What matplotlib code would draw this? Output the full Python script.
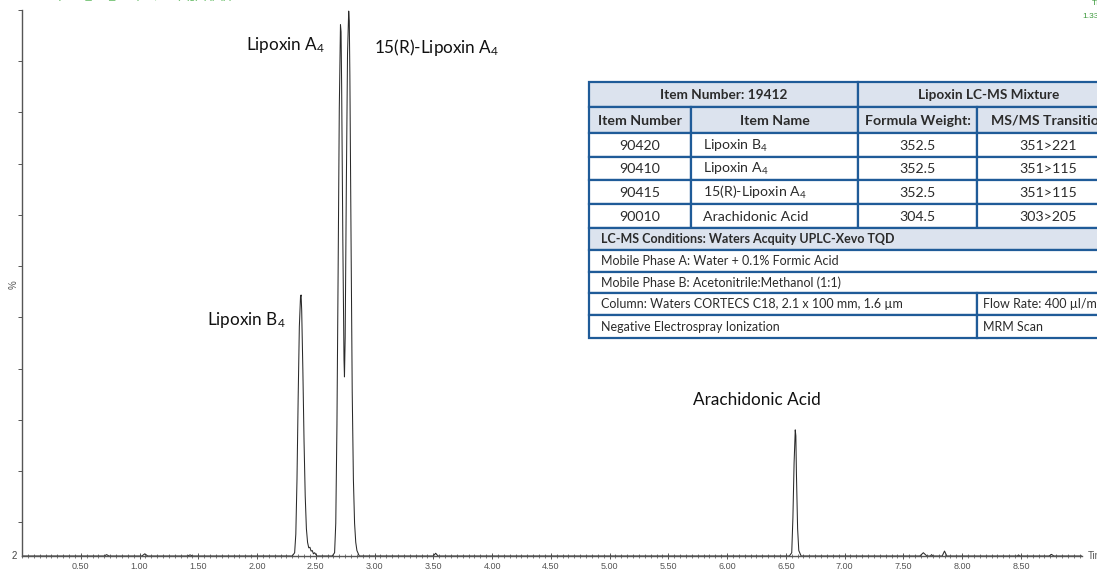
import matplotlib
matplotlib.use("Agg")
import matplotlib.pyplot as plt
from matplotlib.patches import Rectangle
from matplotlib.ticker import MultipleLocator
import numpy as np

plt.rcParams["font.family"] = ["Lato", "DejaVu Sans"]
plt.rcParams["mathtext.default"] = "regular"

# chromatogram trace (retention time in min, relative intensity in %)
trace_time = [
    0.00, 0.70, 0.72, 0.74, 1.02, 1.045, 1.07, 1.41, 1.43, 1.45,
    2.30, 2.32, 2.33, 2.34, 2.35, 2.36, 2.37, 2.375, 2.38, 2.39, 2.40, 2.41,
    2.42, 2.43, 2.44, 2.45, 2.46, 2.47, 2.48, 2.49, 2.51,
    2.64, 2.66, 2.67, 2.68, 2.69, 2.70, 2.71, 2.715, 2.72, 2.73, 2.74, 2.744,
    2.75, 2.76, 2.77, 2.78, 2.785, 2.79, 2.80, 2.81, 2.82, 2.83, 2.84, 2.85, 2.87,
    3.50, 3.52, 3.54,
    6.53, 6.55, 6.56, 6.57, 6.58, 6.585, 6.59, 6.60, 6.61, 6.63,
    7.64, 7.67, 7.70, 7.73, 7.74, 7.75, 7.83, 7.85, 7.87,
    8.47, 8.48, 8.49, 8.74, 8.76, 8.78, 9.02,
]
trace_pct = [
    0.0, 0.0, 0.25, 0.0, 0.0, 0.4, 0.0, 0.0, 0.2, 0.0,
    0.0, 0.6, 4.0, 14.0, 29.0, 42.0, 47.5, 47.8, 45.0, 34.0, 21.0, 11.0,
    5.0, 2.5, 1.5, 1.6, 0.9, 1.0, 0.4, 0.6, 0.0,
    0.0, 0.6, 6.0, 24.0, 52.0, 82.0, 97.3, 96.0, 86.0, 58.0, 36.0, 32.8,
    40.0, 68.0, 92.0, 99.8, 98.0, 88.0, 58.0, 30.0, 14.0, 6.0, 2.5, 1.0, 0.0,
    0.0, 0.5, 0.0,
    0.0, 0.6, 7.0, 17.0, 23.1, 22.0, 15.0, 5.0, 1.0, 0.0,
    0.0, 0.6, 0.0, 0.0, 0.25, 0.0, 0.0, 0.9, 0.0,
    0.0, 0.2, 0.0, 0.0, 0.3, 0.0, 0.0,
]

peak_names = ["Lipoxin A$_4$", "15(R)-Lipoxin A$_4$", "Lipoxin B$_4$", "Arachidonic Acid"]
peak_label_time = [2.24, 3.53, 1.91, 6.25]
peak_label_pct = [93.6, 93.2, 43.2, 28.6]

xtick_values = [0.5, 1.0, 1.5, 2.0, 2.5, 3.0, 3.5, 4.0, 4.5, 5.0, 5.5, 6.0, 6.5, 7.0, 7.5, 8.0, 8.5]

# product table
table_title = ["Item Number: 19412", "Lipoxin LC-MS Mixture"]
table_header = ["Item Number", "Item Name", "Formula Weight:", "MS/MS Transition"]
item_numbers = ["90420", "90410", "90415", "90010"]
item_names = ["Lipoxin B$_4$", "Lipoxin A$_4$", "15(R)-Lipoxin A$_4$", "Arachidonic Acid"]
formula_weights = ["352.5", "352.5", "352.5", "304.5"]
transitions = ["351>221", "351>115", "351>115", "303>205"]
conditions_title = "LC-MS Conditions: Waters Acquity UPLC-Xevo TQD"
conditions_full = ["Mobile Phase A: Water + 0.1% Formic Acid",
                   "Mobile Phase B: Acetonitrile:Methanol (1:1)"]
conditions_split = [("Column: Waters CORTECS C18, 2.1 x 100 mm, 1.6 µm", "Flow Rate: 400 µl/min"),
                    ("Negative Electrospray Ionization", "MRM Scan")]

W, H = 1097, 569
fig = plt.figure(figsize=(W / 100, H / 100), dpi=100)
ax = fig.add_axes([22 / W, 13 / H, (1082 - 22) / W, 546 / H])

ax.plot(trace_time, trace_pct, color="#2a2a2a", lw=0.75)
ax.set_xlim(0, 9.02)
ax.set_ylim(0, 100)

for name, t, p in zip(peak_names, peak_label_time, peak_label_pct):
    ax.text(t, p, name, ha="center", va="center", fontsize=12.3, color="#111111")

ax.spines["top"].set_visible(False)
ax.spines["right"].set_visible(False)
for side in ["left", "bottom"]:
    ax.spines[side].set_color("#555555")
    ax.spines[side].set_linewidth(1.0)

ax.set_xticks(xtick_values)
ax.set_xticklabels([f"{v:.2f}" for v in xtick_values], family="Liberation Sans", fontsize=6.5, color="#555555")
ax.xaxis.set_minor_locator(MultipleLocator(0.05))
ax.tick_params(axis="x", which="major", direction="inout", length=4, width=0.7, color="#555555", pad=2)
ax.tick_params(axis="x", which="minor", direction="inout", length=3, width=0.6, color="#666666")
ax.set_yticks(np.linspace(100, 6.2, 11))
ax.set_yticklabels([])
ax.tick_params(axis="y", direction="out", length=3, width=0.7, color="#555555")

# overlay in pixel coordinates for the table and clipped header texts
ov = fig.add_axes([0, 0, 1, 1], zorder=5)
ov.set_xlim(0, W)
ov.set_ylim(H, 0)
ov.axis("off")
ov.patch.set_alpha(0)

ov.text(14, 285, "%", rotation=90, ha="center", va="center", fontsize=7,
        family="Liberation Sans", color="#555555")
ov.text(14, 556, "2", ha="center", va="center", fontsize=7, family="Liberation Sans", color="#444444")
ov.text(1088, 556, "Time", ha="left", va="center", fontsize=7, family="Liberation Sans", color="#555555")
ov.text(50, -1, "Lipoxin_mix_Sm (Mn, 2x3) (g) (q) (p)", ha="left", va="baseline", fontsize=8,
        family="Liberation Sans", color="#5cb85c")
ov.text(1082, 16, "1.33e7", ha="left", va="center", fontsize=6, family="Liberation Sans", color="#3d9a3d")
ov.text(1092, 3, "TIC", ha="left", va="center", fontsize=6, family="Liberation Sans", color="#3d9a3d")

border = "#1f5b98"
head_fill = "#dce3ee"
txt = "#2b2b2b"
cols = [589, 691, 858, 977, 1120]
rows = [82, 107, 133, 157, 180, 204, 228, 250, 272, 293, 315, 338]


def cell(x0, x1, y0, y1, fill="white"):
    ov.add_patch(Rectangle((x0, y0), x1 - x0, y1 - y0, facecolor=fill, edgecolor=border, lw=1.6))


# title row
cell(cols[0], cols[2], rows[0], rows[1], head_fill)
cell(cols[2], cols[4], rows[0], rows[1], head_fill)
for (a, b), s in zip([(cols[0], cols[2]), (cols[2], cols[4])], table_title):
    ov.text((a + b) / 2, (rows[0] + rows[1]) / 2, s, ha="center", va="center",
            fontsize=9.8, fontweight="bold", color=txt)

# header row
for i, s in enumerate(table_header):
    cell(cols[i], cols[i + 1], rows[1], rows[2], head_fill)
    ov.text((cols[i] + cols[i + 1]) / 2, (rows[1] + rows[2]) / 2 + 0.5, s, ha="center", va="center",
            fontsize=10.2, fontweight="bold", color=txt)

# item rows
for r, vals in enumerate(zip(item_numbers, item_names, formula_weights, transitions)):
    y0, y1 = rows[2 + r], rows[3 + r]
    ym = (y0 + y1) / 2 + 0.5
    for i in range(4):
        cell(cols[i], cols[i + 1], y0, y1)
    ov.text((cols[0] + cols[1]) / 2, ym, vals[0], ha="center", va="center", fontsize=10.2, color=txt)
    ov.text(cols[1] + 12, ym, vals[1], ha="left", va="center", fontsize=10.2, color=txt)
    ov.text((cols[2] + cols[3]) / 2, ym, vals[2], ha="center", va="center", fontsize=10.2, color=txt)
    ov.text((cols[3] + cols[4]) / 2, ym, vals[3], ha="center", va="center", fontsize=10.2, color=txt)

# conditions
cell(cols[0], cols[4], rows[6], rows[7], head_fill)
ov.text(cols[0] + 12, (rows[6] + rows[7]) / 2, conditions_title, ha="left", va="center",
        fontsize=9, fontweight="bold", color=txt)
for k, s in enumerate(conditions_full):
    y0, y1 = rows[7 + k], rows[8 + k]
    cell(cols[0], cols[4], y0, y1)
    ov.text(cols[0] + 12, (y0 + y1) / 2, s, ha="left", va="center", fontsize=9, color=txt)
for k, (left, right) in enumerate(conditions_split):
    y0, y1 = rows[9 + k], rows[10 + k]
    cell(cols[0], cols[3], y0, y1)
    cell(cols[3], cols[4], y0, y1)
    ov.text(cols[0] + 12, (y0 + y1) / 2, left, ha="left", va="center", fontsize=9, color=txt)
    ov.text(cols[3] + 6, (y0 + y1) / 2, right, ha="left", va="center", fontsize=9, color=txt)

fig.savefig("out.png", dpi=100)
